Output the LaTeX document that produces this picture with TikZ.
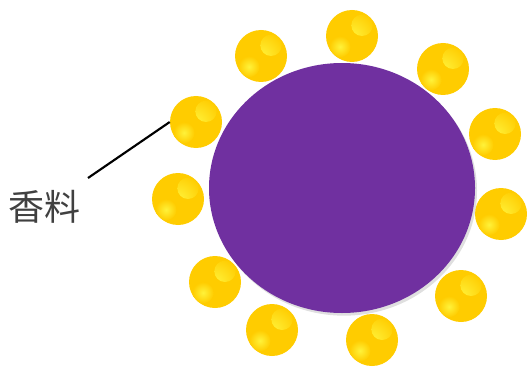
\documentclass[tikz,border=0pt]{standalone}
\usepackage{fontspec}
\newfontfamily\cjkfont{Noto Sans CJK SC}
\usetikzlibrary{shapes.geometric,shadows}
\usepackage{xcolor}
\definecolor{core}{HTML}{7030A0}
\definecolor{gold}{HTML}{FFCC00}
\definecolor{shine}{HTML}{FFF23A}
\definecolor{ink}{HTML}{404040}

\tikzset{
  ball/.style={circle,minimum size=39pt,inner sep=0pt,fill=gold,
    path picture={
      \shade[inner color=shine,outer color=gold]
        ([xshift=7.5pt,yshift=8pt]path picture bounding box.center) circle (8pt);
      \shade[inner color=shine,outer color=gold]
        ([xshift=-9pt,yshift=-8pt]path picture bounding box.center) circle (8pt);
    }},
  droplet/.style={ellipse,minimum width=199.5pt,minimum height=187.5pt,inner sep=0pt,
    fill=core,drop shadow={shadow xshift=1.5pt,shadow yshift=-2pt,opacity=0.25}}
}

\begin{document}
\begin{tikzpicture}[x=0.75pt,y=-0.75pt]
  \useasboundingbox (0,0) rectangle (527,367);
  \node[droplet] (drop) at (342,188) {};
  % balls round the droplet
  \foreach \x/\y/\n in {261/56/1,352/36/2,443/69/3,495/134/4,501/214/5,461/296/6,
                        372/340/7,272/330/8,215/282/9,178/199/10,196/122/11} {
    \node[ball] (b\n) at (\x,\y) {};
  }
  \node[font=\cjkfont\fontsize{27}{31}\selectfont,text=ink,inner sep=0pt] (label) at (44,207) {香料};
  \coordinate (lead) at (88,178);
  \draw[line width=1.6pt] (lead) -- (b11.west);
\end{tikzpicture}
\end{document}
